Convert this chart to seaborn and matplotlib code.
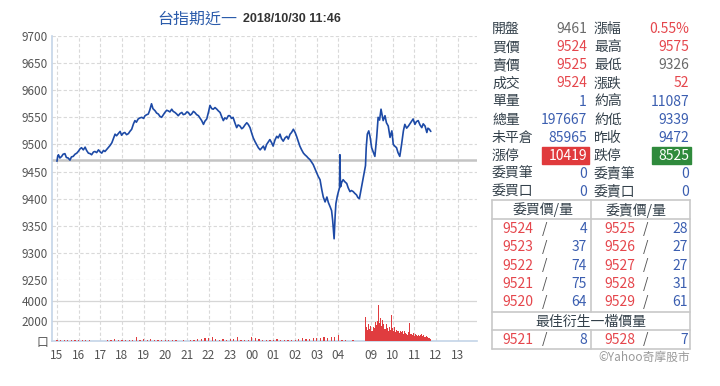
import numpy as np
import pandas as pd
import matplotlib
matplotlib.use("Agg")
import matplotlib.pyplot as plt
import seaborn as sns

# ---------------- data ----------------
price_times = [
    "15:00","15:02","15:04","15:08","15:13","15:17","15:22","15:26","15:31","15:36","15:40","15:45","15:50","15:55",
    "16:00","16:04","16:08","16:13","16:18","16:22","16:27","16:32","16:36","16:41","16:45","16:50","16:55",
    "17:00","17:04","17:09","17:13","17:18","17:22","17:27","17:32","17:37","17:41","17:45","17:50","17:55","17:59",
    "18:04","18:08","18:13","18:18","18:22","18:27","18:32","18:36","18:40","18:45","18:50","18:55",
    "19:00","19:04","19:09","19:13","19:17","19:22","19:26","19:32","19:36","19:41","19:45","19:50","19:55","19:59",
    "20:04","20:08","20:13","20:18","20:22","20:27","20:32","20:36","20:41","20:46","20:50","20:55",
    "21:00","21:04","21:09","21:13","21:18","21:22","21:27","21:32","21:36","21:41","21:46","21:50","21:55",
    "22:00","22:04","22:09","22:13","22:18","22:23","22:27","22:32","22:36","22:41","22:45","22:50","22:55","22:59",
    "23:04","23:08","23:13","23:18","23:22","23:27","23:32","23:36","23:41","23:46","23:50","23:55",
    "00:00","00:04","00:09","00:13","00:18","00:23","00:27","00:32","00:36","00:41","00:46","00:50","00:55","00:59",
    "01:04","01:09","01:13","01:18","01:22","01:27","01:32","01:37","01:41","01:46","01:50","01:55",
    "02:00","02:04","02:09","02:13","02:18","02:23","02:27","02:32","02:36","02:41","02:45","02:50","02:55",
    "03:00","03:04","03:09","03:14","03:18","03:23","03:28","03:32","03:37","03:41","03:44","03:48","03:51","03:53","03:57",
    "04:00","04:03","04:04","04:05","04:06","04:09","04:13","04:18","04:23","04:27","04:32","04:36","04:41","04:45","04:50","04:54","04:58","05:00",
    "08:45","08:47","08:50","08:54","08:58","09:02","09:07","09:11","09:16","09:20","09:24","09:28","09:31","09:34","09:39",
    "09:43","09:48","09:53","09:58","10:02","10:06","10:11","10:15","10:20","10:25","10:30","10:34","10:39","10:44","10:50",
    "10:57","11:02","11:06","11:11","11:16","11:21","11:25","11:30","11:35","11:38","11:42","11:46",
]
price_values = [
    9469,9478,9481,9475,9478,9482,9483,9476,9475,9471,9477,9478,9482,9484,
    9488,9492,9494,9490,9495,9489,9484,9483,9481,9486,9487,9485,9490,
    9486,9484,9489,9487,9491,9494,9498,9503,9512,9519,9516,9520,9524,9517,
    9521,9522,9518,9520,9524,9528,9538,9544,9541,9547,9549,9550,
    9548,9553,9555,9556,9563,9575,9566,9562,9558,9556,9552,9550,9555,9559,
    9563,9562,9560,9565,9561,9559,9556,9553,9557,9559,9555,9556,
    9560,9559,9554,9556,9561,9559,9555,9553,9549,9544,9537,9543,9547,
    9560,9572,9566,9565,9568,9565,9562,9559,9552,9544,9549,9547,9553,9553,
    9548,9550,9540,9531,9536,9534,9529,9531,9536,9540,9537,9531,
    9520,9512,9505,9500,9494,9490,9493,9497,9490,9500,9505,9509,9503,9497,
    9508,9515,9512,9519,9511,9506,9512,9515,9510,9519,9522,9528,
    9522,9515,9505,9497,9490,9484,9481,9478,9475,9472,9468,9463,9455,
    9447,9441,9435,9416,9403,9394,9403,9393,9385,9378,9360,9326,9370,9391,9405,
    9413,9420,9481,9440,9422,9430,9435,9431,9428,9420,9413,9415,9413,9410,9407,9402,9400,9407,
    9461,9494,9519,9525,9513,9494,9485,9478,9513,9550,9545,9565,9555,9544,9553,
    9540,9534,9513,9525,9500,9497,9494,9485,9478,9500,9525,9537,9530,9534,9540,
    9547,9537,9542,9544,9536,9531,9538,9534,9522,9530,9528,9524,
]

night_vol_times = [f"{h:02d}:{m:02d}" for h in list(range(15, 24)) + list(range(0, 5)) for m in range(0, 60, 10)]
night_vol = [
    150, 80, 100, 60, 120, 90,
    100, 140, 80, 60, 0, 50,
    40, 30, 60, 150, 200, 120,
    100, 80, 100, 150, 400, 150,
    200, 120, 200, 150, 100, 120,
    100, 80, 60, 100, 50, 60,
    40, 60, 100, 200, 250, 300,
    350, 400, 200, 150, 200, 150,
    250, 200, 400, 150, 120, 150,
    450, 300, 250, 150, 120, 100,
    150, 200, 100, 60, 80, 100,
    150, 200, 300, 250, 200, 300,
    350, 300, 400, 350, 400, 450,
    650, 100, 60, 40, 60, 50,
]
day_vol_times = [
    "08:45","08:48","08:51","08:54","08:57","09:00","09:03","09:06","09:09","09:12","09:15","09:18","09:21","09:24",
    "09:27","09:30","09:33","09:36","09:39","09:42","09:45","09:48","09:51","09:54","09:57","10:00","10:03","10:06",
    "10:09","10:12","10:15","10:18","10:21","10:24","10:27","10:30","10:33","10:36","10:39","10:42","10:45","10:48",
    "10:51","10:54","10:57","11:00","11:03","11:06","11:09","11:12","11:15","11:18","11:21","11:24","11:27","11:30",
    "11:33","11:36","11:39","11:42","11:45",
]
day_vol = [
    2400, 1400, 1100, 1700, 1200, 1500, 1000, 1400, 1300, 1900, 1600, 2000, 3650, 1800,
    2300, 1500, 2100, 1700, 1200, 1700, 1300, 1000, 1400, 1100, 2650, 1300, 1000, 1400,
    900, 1100, 1000, 800, 1000, 900, 1050, 700, 1000, 800, 700, 600, 900, 1800,
    700, 600, 800, 550, 700, 600, 500, 650, 500, 600, 700, 500, 600, 450,
    550, 400, 350, 300, 200,
]
prev_close = 9472
hour_labels = ["15","16","17","18","19","20","21","22","23","00","01","02","03","04","09","10","11","12","13"]
price_ticks = [9250, 9300, 9350, 9400, 9450, 9500, 9550, 9600, 9650, 9700]
vol_ticks = [0, 2000, 4000]
vol_tick_labels = ["口", "2000", "4000"]

quote_rows = [
    ("開盤", "9461", "漲幅", "0.55%"),
    ("買價", "9524", "最高", "9575"),
    ("賣價", "9525", "最低", "9326"),
    ("成交", "9524", "漲跌", "52"),
    ("單量", "1", "約高", "11087"),
    ("總量", "197667", "約低", "9339"),
    ("未平倉", "85965", "昨收", "9472"),
    ("漲停", "10419", "跌停", "8525"),
    ("委買筆", "0", "委賣筆", "0"),
    ("委買口", "0", "委賣口", "0"),
]
bid_prices = ["9524", "9523", "9522", "9521", "9520"]
bid_qty = ["4", "37", "74", "75", "64"]
ask_prices = ["9525", "9526", "9527", "9528", "9529"]
ask_qty = ["28", "27", "27", "31", "61"]
best_deriv = ("9521", "8", "9528", "7")

# ---------------- helpers ----------------
def to_u(s):
    h, m = map(int, s.split(":"))
    t = h + m / 60
    if t >= 15:
        return t - 15
    if t < 6:
        return t + 9
    return 14.5 + (t - 9)

hour_pos = [to_u(f"{h}:00") for h in hour_labels]

W, H = 720, 386
sns.set_theme(style="white")
CJK = ["Noto Sans CJK TC", "DejaVu Sans"]
plt.rcParams["font.family"] = CJK

fig = plt.figure(figsize=(7.2, 3.86), dpi=100)

def fx(x):
    return x / W

def fy(y):
    return 1 - y / H

L, R = 52, 477
ax = fig.add_axes([fx(L), fy(280), (R - L) / W, (280 - 36) / H])
axv = fig.add_axes([fx(L), fy(341), (R - L) / W, (341 - 280) / H])

XMIN, XMAX = -0.23, 19.4
grid_c = "#d9d9d9"
spine_c = "#c3d4e8"
tick_c = "#555555"

# price line
df = pd.DataFrame({"u": [to_u(t) for t in price_times], "price": price_values})
ax.axhline(prev_close, color="#c4c4c4", lw=1.8, zorder=2)
sns.lineplot(data=df, x="u", y="price", ax=ax, color="#1d4aa6", lw=1.2, sort=False, zorder=3)
ax.set_xlim(XMIN, XMAX)
ax.set_ylim(9250, 9700)
ax.set_yticks(price_ticks)
ax.set_xticks(hour_pos)
ax.set_xticklabels([])
ax.set_xlabel("")
ax.set_ylabel("")
for p in price_ticks:
    ax.axhline(p, color=("#bdbdbd" if p == 9250 else grid_c), lw=0.8, ls=(0, (3, 2)), zorder=1)
for u in hour_pos:
    ax.axvline(u, color=grid_c, lw=0.8, ls=(0, (3, 2)), zorder=1)
ax.tick_params(axis="both", length=0, colors=tick_c, labelsize=8.5, pad=3)
for s in ["top", "right", "bottom"]:
    ax.spines[s].set_visible(False)
ax.spines["left"].set_color(spine_c)
ax.spines["left"].set_linewidth(1.2)

# volume bars
dfn = pd.DataFrame({"u": [to_u(t) for t in night_vol_times], "v": night_vol})
dfd = pd.DataFrame({"u": [to_u(t) for t in day_vol_times], "v": day_vol})
wn = 10 / 60
wd = 3 / 60
bar_c = "#e03c3f"
sns.histplot(data=dfn, x="u", weights="v", binwidth=wn,
             binrange=(dfn["u"].min() - wn / 2, dfn["u"].max() + wn / 2),
             shrink=0.35, ax=axv, color=bar_c, alpha=1, linewidth=0, zorder=3)
sns.histplot(data=dfd, x="u", weights="v", binwidth=wd,
             binrange=(dfd["u"].min() - wd / 2, dfd["u"].max() + wd / 2),
             ax=axv, color=bar_c, alpha=1, linewidth=0, zorder=3)
axv.set_xlim(XMIN, XMAX)
axv.set_ylim(0, 6100)
axv.set_yticks(vol_ticks)
axv.set_yticklabels(vol_tick_labels)
axv.set_xticks(hour_pos)
axv.set_xticklabels(hour_labels)
axv.set_xlabel("")
axv.set_ylabel("")
for v in vol_ticks[1:]:
    axv.axhline(v, color="#d6d6d6", lw=0.9, zorder=1)
for u in hour_pos:
    axv.axvline(u, color=grid_c, lw=0.8, ls=(0, (3, 2)), zorder=1)
axv.tick_params(axis="y", length=0, colors=tick_c, labelsize=8.5, pad=3)
axv.tick_params(axis="x", length=4, width=1, color=spine_c, colors=tick_c, labelsize=8.5, pad=2)
for s in ["top", "right"]:
    axv.spines[s].set_visible(False)
for s in ["left", "bottom"]:
    axv.spines[s].set_color(spine_c)
    axv.spines[s].set_linewidth(1.2)

# title
fig.text(fx(157), fy(19), "台指期近一", color="#2c5cab", fontsize=11.5, va="center", ha="left")
fig.text(fx(243), fy(19), "2018/10/30 11:46", color="#333333", fontsize=9, fontweight="bold",
         va="center", ha="left", family=["Liberation Sans", "DejaVu Sans"])

# quote table
red = "#e5464c"
blue = "#3b5eb0"
gray = "#6a6a6a"
lab_c = "#33404a"
val_colors = [
    (gray, red), (red, red), (red, gray), (red, red), (blue, blue),
    (blue, blue), (blue, blue), ("white", "white"), (blue, blue), (blue, blue),
]
fs = 10
row_y0, row_dy = 29.3, 18.05
for i, (l1, v1, l2, v2) in enumerate(quote_rows):
    y = row_y0 + i * row_dy
    c1, c2 = val_colors[i]
    fig.text(fx(492), fy(y), l1, color=lab_c, fontsize=fs, va="center", ha="left")
    fig.text(fx(594), fy(y), l2, color=lab_c, fontsize=fs, va="center", ha="left")
    if l1 == "漲停":
        fig.patches.append(plt.Rectangle((fx(542), fy(y + 8.5)), (589 - 542) / W, 17 / H,
                                         transform=fig.transFigure, color="#e03a3c", zorder=0))
        fig.patches.append(plt.Rectangle((fx(652), fy(y + 8.5)), (691 - 652) / W, 17 / H,
                                         transform=fig.transFigure, color="#2f8a3c", zorder=0))
    fig.text(fx(587), fy(y), v1, color=c1, fontsize=fs, va="center", ha="right")
    fig.text(fx(689), fy(y), v2, color=c2, fontsize=fs, va="center", ha="right")

# order book box
line_c = "#c8c8c8"
def hline(y, x0=492, x1=690):
    fig.add_artist(plt.Line2D([fx(x0), fx(x1)], [fy(y), fy(y)], color=line_c, lw=1.2,
                              transform=fig.transFigure))
def vline(x, y0, y1):
    fig.add_artist(plt.Line2D([fx(x), fx(x)], [fy(y0), fy(y1)], color=line_c, lw=1.2,
                              transform=fig.transFigure))
hline(200); hline(219); hline(312); hline(330); hline(349)
vline(492, 200, 349); vline(690, 200, 349)
vline(591, 200, 312); vline(591, 330, 349)
fig.text(fx(543), fy(210), "委買價/量", color=lab_c, fontsize=fs, ha="center", va="center")
fig.text(fx(636), fy(210), "委賣價/量", color=lab_c, fontsize=fs, ha="center", va="center")
for i in range(5):
    y = 229.3 + i * 18.1
    fig.text(fx(502), fy(y), bid_prices[i], color=red, fontsize=fs, ha="left", va="center")
    fig.text(fx(545), fy(y), "/", color="#555555", fontsize=fs, ha="center", va="center")
    fig.text(fx(587), fy(y), bid_qty[i], color=blue, fontsize=fs, ha="right", va="center")
    fig.text(fx(604), fy(y), ask_prices[i], color=red, fontsize=fs, ha="left", va="center")
    fig.text(fx(646), fy(y), "/", color="#555555", fontsize=fs, ha="center", va="center")
    fig.text(fx(688), fy(y), ask_qty[i], color=blue, fontsize=fs, ha="right", va="center")
fig.text(fx(591), fy(321.5), "最佳衍生一檔價量", color=lab_c, fontsize=fs, ha="center", va="center")
y = 339.5
fig.text(fx(502), fy(y), best_deriv[0], color=red, fontsize=fs, ha="left", va="center")
fig.text(fx(545), fy(y), "/", color="#555555", fontsize=fs, ha="center", va="center")
fig.text(fx(587), fy(y), best_deriv[1], color=blue, fontsize=fs, ha="right", va="center")
fig.text(fx(604), fy(y), best_deriv[2], color=red, fontsize=fs, ha="left", va="center")
fig.text(fx(646), fy(y), "/", color="#555555", fontsize=fs, ha="center", va="center")
fig.text(fx(688), fy(y), best_deriv[3], color=blue, fontsize=fs, ha="right", va="center")
fig.text(fx(690), fy(357), "©Yahoo奇摩股市", color="#999999", fontsize=8.5, ha="right", va="center")

fig.savefig("out.png", dpi=100, facecolor="white")
